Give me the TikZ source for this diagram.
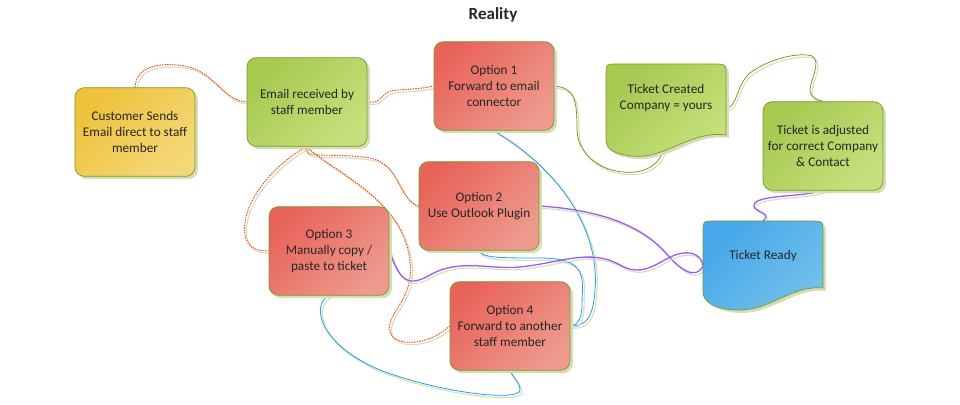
\documentclass[tikz,border=0pt]{standalone}
\usepackage{fontspec}
\setmainfont{Carlito}
\usepackage{tikz}
\usetikzlibrary{shadows, backgrounds}

\definecolor{bordc}{HTML}{7A9A2E}
\definecolor{shadc}{HTML}{D4DDB4}
\definecolor{txtc}{HTML}{262626}
\definecolor{redA}{HTML}{E8645A}
\definecolor{redB}{HTML}{EE9A8E}
\definecolor{grnA}{HTML}{A6C950}
\definecolor{grnB}{HTML}{C6E07C}
\definecolor{ylwA}{HTML}{EEC23C}
\definecolor{ylwB}{HTML}{F4D877}
\definecolor{bluA}{HTML}{46A8EA}
\definecolor{bluB}{HTML}{72C0EA}
\definecolor{dashc}{HTML}{F0481E}
\definecolor{linkb}{HTML}{2B9AF3}
\definecolor{linkp}{HTML}{9A5CF0}
\definecolor{linko}{HTML}{6E8E1E}

\begin{document}
\begin{tikzpicture}[x=0.03cm, y=-0.03cm,
  every node/.style={font=\fontsize{11.3}{13.6}\selectfont, text=txtc},
  boxshadow/.style={drop shadow={shadow xshift=2.4pt, shadow yshift=-2.4pt, fill=shadc, opacity=1}},
  card/.style={rounded corners=8pt, draw=bordc, line width=0.6pt, minimum width=3.6cm,
    minimum height=2.66cm, align=center, inner sep=1pt, boxshadow},
  redcard/.style={card, top color=redA, bottom color=redB, shading angle=45},
  grncard/.style={card, top color=grnA, bottom color=grnB, shading angle=45},
  ylwcard/.style={card, top color=ylwA, bottom color=ylwB, shading angle=45},
  wave/.style={draw=bordc, line width=0.6pt, boxshadow, shading angle=45},
  label/.style={minimum width=3.6cm, align=center, inner sep=1pt},
  lshadow/.style={preaction={draw=shadc, line width=0.9pt, transform canvas={shift={(1.7pt,-2pt)}}}},
  redlink/.style={lshadow, draw=dashc, line width=0.8pt, dash pattern=on 1.3pt off 0.9pt},
  bluelink/.style={lshadow, draw=linkb, line width=0.7pt},
  purplink/.style={lshadow, draw=linkp, line width=1.1pt},
  olivlink/.style={lshadow, draw=linko, line width=0.6pt}]
  \useasboundingbox (0,0) rectangle (960,405);

  % ---------- TITLE ----------
  \node[font=\bfseries\fontsize{14.5}{16}\selectfont] (title) at (493,15) {Reality};

  % ---------- NODES ----------
  \node[ylwcard] (cust) at (135,132) {Customer Sends\\Email direct to staff\\member};
  \node[grncard] (email) at (307,102) {Email received by\\staff member};
  \node[redcard] (opt1) at (494,86) {Option 1\\Forward to email\\connector};
  \node[redcard] (opt2) at (479,206) {Option 2\\Use Outlook Plugin};
  \node[redcard] (opt3) at (329,251) {Option 3\\Manually copy /\\paste to ticket};
  \node[redcard] (opt4) at (510,326) {Option 4\\Forward to another\\staff member};
  \node[grncard] (adjusted) at (823,146) {Ticket is adjusted\\for correct Company\\\& Contact};

  % wavy ones
  \path[wave, top color=grnA, bottom color=grnB, shading angle=45]
    (606,76) .. controls (606,64) .. (618,64) -- (714,64) .. controls (726,64) .. (726,76)
    -- (726,135) .. controls (690,130) and (665,160) .. (632,156)
    .. controls (615,154) and (606,150) .. (606,140) -- cycle;
  \node[label, minimum height=2.5cm] (created) at (666,98) {Ticket Created\\Company = yours};
  \path[wave, top color=bluA, bottom color=bluB, shading angle=45]
    (703,233) .. controls (703,221) .. (715,221) -- (811,221) .. controls (823,221) .. (823,233)
    -- (823,288) .. controls (790,285) and (770,312) .. (735,310)
    .. controls (715,309) and (703,302) .. (703,292) -- cycle;
  \node[label, minimum height=2.1cm] (ready) at (763,256) {Ticket Ready};

  % ---------- LINKS ----------
  \begin{pgfonlayer}{background}
    \fill[white] (0,0) rectangle (960,405);
    \draw[redlink] (cust.north) .. controls (136,66) and (160,62) .. (185,66)
      .. controls (215,72) and (222,100) .. (email.west);
    \draw[redlink] (email.east) .. controls (385,104) and (378,91) .. (398,90)
      .. controls (415,89) and (425,88) .. (opt1.west);
    \draw[redlink] (email.south) .. controls (280,160) and (240,200) .. (245,235)
      .. controls (248,250) and (260,251) .. (opt3.west);
    \draw[redlink] (email.south) .. controls (300,160) and (330,152) .. (370,158)
      .. controls (400,163) and (398,200) .. (opt2.west);
    \draw[redlink] (email.south) .. controls (330,170) and (395,195) .. (408,250)
      .. controls (420,300) and (385,310) .. (390,332)
      .. controls (395,348) and (430,345) .. (opt4.west);
    \draw[bluelink] (opt1.south) .. controls (560,170) and (600,230) .. (595,290)
      .. controls (593,320) and (585,326) .. (opt4.east);
    \draw[bluelink] (opt2.south) .. controls (482,258) and (500,258) .. (540,258)
      .. controls (590,258) and (582,280) .. (582,305)
      .. controls (582,322) and (575,326) .. (opt4.east);
    \draw[bluelink] (opt3.south) .. controls (310,305) and (320,345) .. (380,370)
      .. controls (440,393) and (520,402) .. (520,390)
      .. controls (520,382) and (512,377) .. (opt4.south);
    \draw[purplink] (opt2.east) .. controls (600,210) and (640,225) .. (665,252)
      .. controls (680,270) and (695,280) .. (ready.190);
    \draw[purplink] (opt3.east) .. controls (398,275) and (405,290) .. (430,275)
      .. controls (460,258) and (490,270) .. (520,267)
      .. controls (560,263) and (590,248) .. (620,265)
      .. controls (650,282) and (665,250) .. (690,253)
      .. controls (700,255) and (703,262) .. (ready.190);
    \draw[purplink] (ready.north) .. controls (775,212) and (748,212) .. (755,203)
      .. controls (762,195) and (800,197) .. (adjusted.south);
    \draw[olivlink] (opt1.east) .. controls (575,88) and (577,100) .. (577,130)
      .. controls (578,160) and (610,175) .. (635,172)
      .. controls (655,170) and (665,155) .. (created.south);
    \draw[olivlink] (created.-10) .. controls (738,106) and (736,85) .. (750,73)
      .. controls (770,58) and (800,52) .. (812,56)
      .. controls (822,62) and (810,80) .. (810,90)
      .. controls (810,98) and (818,100) .. (adjusted.north);
  \end{pgfonlayer}
\end{tikzpicture}
\end{document}
